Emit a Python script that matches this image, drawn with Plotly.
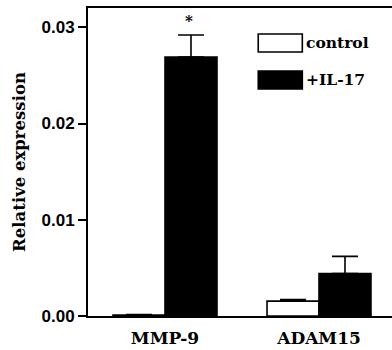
import plotly.graph_objects as go

categories = ["MMP-9", "ADAM15"]
series_names = ["control", "+IL-17"]
control_vals = [0.0001, 0.00155]
control_err = [0.00005, 0.00015]
il17_vals = [0.0269, 0.0044]
il17_err = [0.0023, 0.0018]
y_ticks = [0.0, 0.01, 0.02, 0.03]
y_tick_labels = ["0.00", "0.01", "0.02", "0.03"]

SERIF = "DejaVu Serif"
SANS = "Liberation Sans"

fig = go.Figure()
fig.add_trace(go.Bar(
    x=categories, y=control_vals, name=series_names[0],
    marker=dict(color="white", line=dict(color="black", width=1.6)),
    error_y=dict(type="data", array=control_err, arrayminus=[0, 0], symmetric=False,
                 color="black", thickness=1.6, width=13),
    showlegend=False,
))
fig.add_trace(go.Bar(
    x=categories, y=il17_vals, name=series_names[1],
    marker=dict(color="black", line=dict(color="black", width=1.6)),
    error_y=dict(type="data", array=il17_err, arrayminus=[0, 0], symmetric=False,
                 color="black", thickness=1.6, width=13),
    showlegend=False,
))

# significance asterisk
fig.add_annotation(x=categories[0], y=il17_vals[0] + il17_err[0], xshift=24, yshift=14,
                   text="<b>*</b>", showarrow=False, font=dict(family=SERIF, size=15, color="black"))

# custom legend
legend_fills = ["white", "black"]
for i, (nm, fc) in enumerate(zip(series_names, legend_fills)):
    y1 = 0.9156 - i * 0.12
    fig.add_shape(type="rect", xref="paper", yref="paper", x0=0.56, x1=0.705,
                  y0=y1 - 0.0584, y1=y1, fillcolor=fc, line=dict(color="black", width=1.6))
    fig.add_annotation(xref="paper", yref="paper", x=0.71, y=y1 - 0.029, xanchor="left",
                       yanchor="middle", text=f"<b>{nm}</b>", showarrow=False,
                       font=dict(family=SERIF, size=15.5, color="black"))

fig.update_layout(
    width=392, height=350,
    margin=dict(l=88, r=0, t=8, b=34),
    paper_bgcolor="white", plot_bgcolor="white",
    barmode="group", bargap=0.325, bargroupgap=0,
    font=dict(family=SERIF, size=16, color="black"),
    xaxis=dict(range=[-0.5, 1.474], showline=True, linecolor="black", linewidth=2,
               mirror=True, ticks="", tickfont=dict(family=SERIF, size=17, weight="bold"),
               ticklabelstandoff=6, showgrid=False, zeroline=False),
    yaxis=dict(range=[0, 0.032], tickvals=y_ticks, ticktext=y_tick_labels,
               showline=True, linecolor="black", linewidth=2, ticks="outside",
               ticklen=8, tickwidth=2, tickcolor="black", showgrid=False, zeroline=False,
               tickfont=dict(family=SANS, size=17, weight="bold"),
               title=dict(text="<b>Relative expression</b>", font=dict(family=SERIF, size=16.5), standoff=12)),
)

fig.write_html("out.html", config={"displayModeBar": False},
               post_script="document.body.style.margin='0';document.body.style.overflow='hidden';")
